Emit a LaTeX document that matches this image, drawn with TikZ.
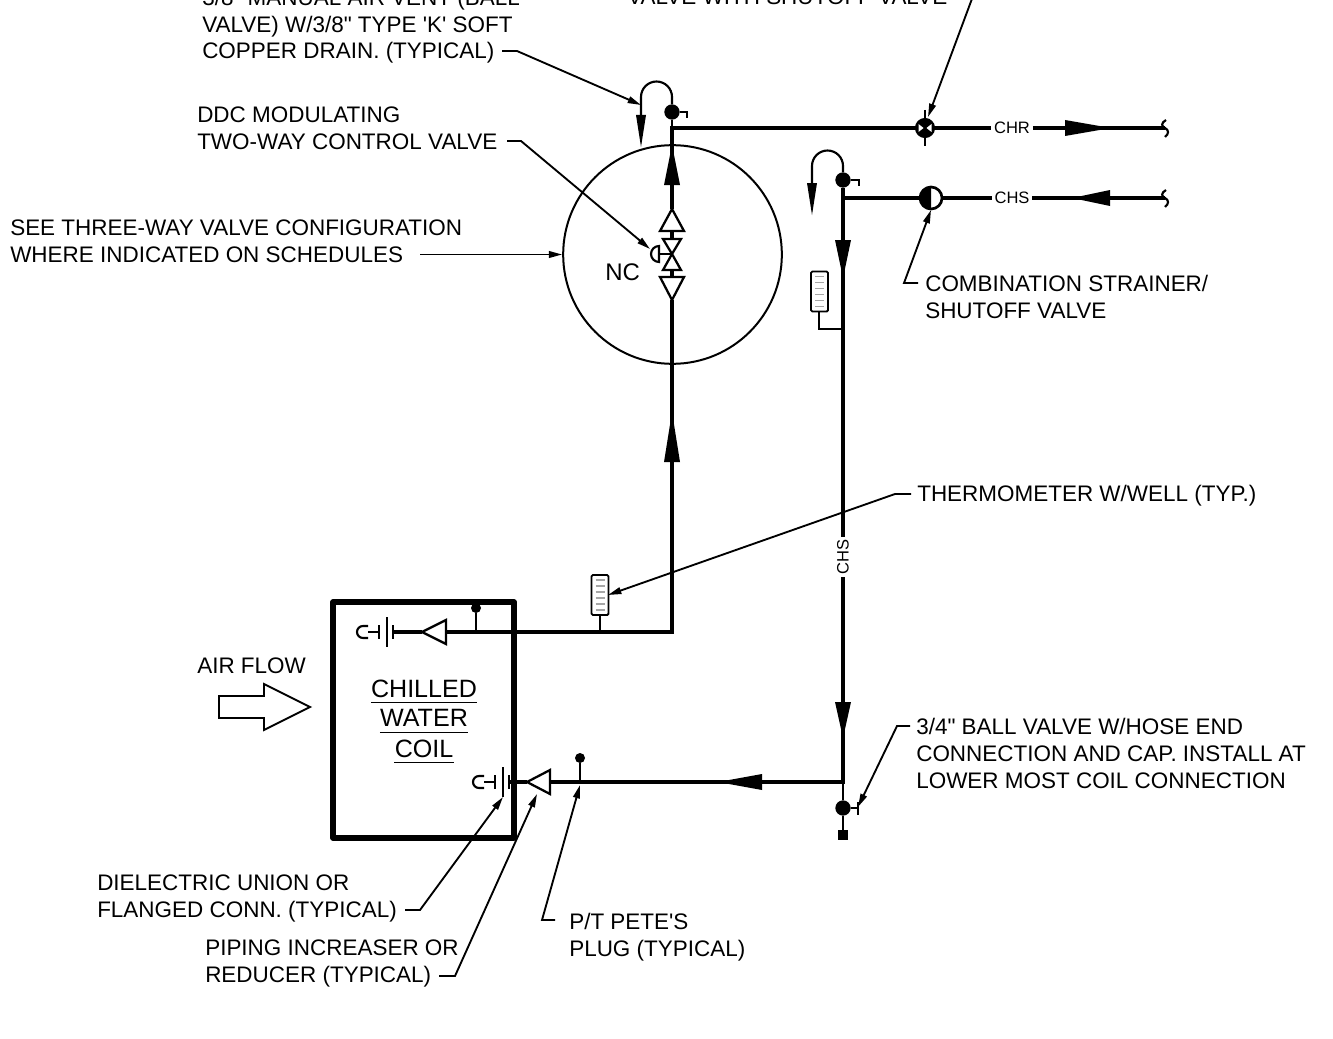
\documentclass[tikz,border=0pt]{standalone}
\usepackage{fontspec}
\setmainfont{Liberation Sans}[Ligatures=TeXOff]
\usetikzlibrary{arrows.meta}
\tikzset{
    callout/.style={inner sep=0pt, align=left, font=\fontsize{16.85}{19.9}\selectfont},
    coilname/.style={inner sep=0pt, text depth=4pt, font=\fontsize{18.8}{22}\selectfont},
    pipename/.style={inner sep=2pt, font=\fontsize{12.4}{14}\selectfont},
    pipe/.style={draw, line width=3pt},
    branch/.style={draw, line width=1.6pt},
    leader/.style={draw, line width=1.4pt, -{Triangle[length=10pt,width=5pt]}},
    ballnode/.style={circle, fill=black, inner sep=0pt, minimum size=11.5pt},
    plugnode/.style={circle, fill=black, inner sep=0pt, minimum size=7.5pt},
    flowhead/.style={fill=black},
    fitting/.style={draw, line width=1.7pt, fill=white, line join=miter},
}
\begin{document}
\begin{tikzpicture}[x=0.75pt, y=-0.75pt]
    \clip (0,0) rectangle (1333,1038);
    \fill[white] (0,0) rectangle (1333,1038);

    % pipe points
    \coordinate (riserbase) at (672,632);
    \coordinate (riserturn) at (672,128);
    \coordinate (coilout) at (446,632);
    \coordinate (chrend) at (1165,128);
    \coordinate (chsend) at (1165,198);
    \coordinate (chsturn) at (843,198);
    \coordinate (chstee) at (843,782);
    \coordinate (coilin) at (550,782);
    \coordinate (tempbranch) at (843,329);
    \coordinate (tempelbow) at (819,329);

    % equipment
    \node[circle, draw, line width=1.5pt, inner sep=0pt, minimum size=164pt] (threeway) at (672.5,254.5) {};
    \draw[line width=3.8pt, line join=round, fill=white] (333,602) rectangle (514,838);
    \node[coilname] (chilled) at (424,691) {CHILLED};
    \node[coilname] (water) at (424,721) {WATER};
    \node[coilname] (coil) at (424,751) {COIL};
    \foreach \word in {chilled, water, coil}
        \draw[line width=1.1pt] (\word.south west) -- (\word.south east);

    % vents and valves
    \node[ballnode] (ventone) at (672,112) {};
    \node[ballnode] (venttwo) at (843,180) {};
    \node[ballnode] (drain) at (843,808) {};
    \node[plugnode] (plugone) at (476,608) {};
    \node[plugnode] (plugtwo) at (580,758) {};
    \node[fill=black, inner sep=0pt, minimum size=7.5pt] (draincap) at (843,835) {};

    % piping
    \draw[pipe] (672,300) -- (riserbase) -- (coilout);
    \draw[pipe] (672,209) -- (riserturn) -- (925,128);
    \node[pipename] (chr) at (1012,128) {CHR};
    \node[pipename] (chs) at (1012,198) {CHS};
    \node[pipename, rotate=90] (chsdown) at (843,557) {CHS};
    \draw[pipe] (925,128) -- (chr) -- (chrend);
    \draw[pipe] (931,198) -- (chs) -- (chsend);
    \draw[pipe] (931,198) -- (chsturn) -- (venttwo);
    \draw[pipe] (chsturn) -- (chsdown) -- (chstee) -- (coilin);
    \draw[branch] (chstee) -- (drain) -- (draincap);
    \draw[branch] (ventone) -- (riserturn);
    \draw[branch] (plugone) -- (476,632);
    \draw[branch] (plugtwo) -- (580,782);
    \draw[pipe] (422,632) -- (393,632);
    \draw[pipe] (527,782) -- (509,782);
    \draw[branch] (ventone) -- (672,97) arc[start angle=0, end angle=-180, radius=15.5] -- (641,116);
    \draw[branch] (venttwo) -- (843,166) arc[start angle=0, end angle=-180, radius=15.5] -- (812,184);
    \draw[branch] (ventone) -- (687,112) -- (687,118);
    \draw[branch] (venttwo) -- (859,180) -- (859,186);
    \draw[branch] (drain) -- (858,808);
    \draw[branch] (858,802) -- (858,815);

    % flow arrows: base x, base y, angle, length, half width
    \foreach \bx/\by/\ang/\len/\hw in {
        641/115/270/32/5, 812/183/270/32/5, 672/185/90/40/8, 672/462/90/50/8,
        843/240/270/38/8, 843/702/270/36/8, 1065/128/0/46/8, 1110/198/180/38/8,
        762/782/180/44/8}
        \fill[flowhead, shift={(\bx,\by)}, rotate=\ang] (0,-\hw) -- (\len,0) -- (0,\hw) -- cycle;

    % reducers and control valve bodies: base x, base y, angle, length, half width
    \foreach \bx/\by/\ang/\len/\hw in {
        672/231/90/22/12, 672/277/270/23/12, 672/239/270/15/9, 672/270/90/16/9,
        446/632/180/24/12, 550/782/180/23/12}
        \draw[fitting, shift={(\bx,\by)}, rotate=\ang] (0,-\hw) -- (\len,0) -- (0,\hw) -- cycle;
    \draw[pipe] (672,231) -- (672,239);
    \draw[pipe] (672,270) -- (672,277);
    \draw[branch] (672,254) -- (659,254);
    \draw[branch, fill=white] (659,246) arc[start angle=270, end angle=90, radius=8] -- cycle;

    % dielectric unions: pipe end x, y
    \foreach \ux/\uy in {393/632, 509/782} {
        \draw[branch] (\ux,\uy-7) -- (\ux,\uy+7);
        \draw[branch] (\ux-6,\uy-15) -- (\ux-6,\uy+15);
        \draw[branch] (\ux-14,\uy-7) -- (\ux-14,\uy+7);
        \draw[branch] (\ux-14,\uy) -- (\ux-25,\uy);
        \draw[branch] (\ux-25,\uy-6) -- (\ux-30,\uy-6) arc[start angle=270, end angle=90, radius=6] -- (\ux-25,\uy+6);
    }

    % shutoff valves
    \draw[branch] (925,110) -- (925,146);
    \node[circle, draw, line width=1.6pt, fill=black, inner sep=0pt, minimum size=13.5pt] (balance) at (925,128) {};
    \fill[white] (923.5,128) -- (918.5,124) -- (918.5,132) -- cycle;
    \fill[white] (926.5,128) -- (931.5,124) -- (931.5,132) -- cycle;
    \node[circle, draw, line width=2pt, fill=white, inner sep=0pt, minimum size=16.5pt] (strainer) at (931,198) {};
    \fill (931,186.5) arc[start angle=270, end angle=90, radius=11.5] -- cycle;

    % thermometers
    \foreach \tx/\ty in {600/595, 819.5/291.5} {
        \draw[line width=1.4pt, rounded corners=1pt, fill=white] (\tx-8.5,\ty-20) rectangle (\tx+8.5,\ty+20);
        \foreach \dy in {-15,-9,-3,3,9,15}
            \draw[gray!70, line width=0.9pt] (\tx-4.5,\ty+\dy) -- (\tx+4.5,\ty+\dy);
    }
    \draw[branch] (600,615) -- (600,632);
    \draw[branch] (819,312) -- (tempelbow) -- (tempbranch);

    % pipe breaks
    \foreach \brk in {chrend, chsend}
        \draw[branch, shift={(\brk)}] (1,-8) .. controls (-4,-5) and (-4,-2) .. (0,0) .. controls (4,2) and (4,6) .. (0,9);

    % air flow
    \draw[line width=1.4pt, line join=miter] (219,696) -- (264,696) -- (264,684) -- (310,707) -- (264,730) -- (264,718) -- (219,718) -- cycle;

    % callouts
    \node[callout, anchor=base west] (airvent) at (202,59) {3/8" MANUAL AIR VENT (BALL\\VALVE) W/3/8" TYPE 'K' SOFT\\COPPER DRAIN. (TYPICAL)};
    \node[callout, anchor=base west] (balancetext) at (627,5) {VALVE WITH SHUTOFF VALVE};
    \node[callout, anchor=base west] (ddc) at (197,149) {DDC MODULATING\\TWO-WAY CONTROL VALVE};
    \node[callout, anchor=base west] (seethree) at (10,262) {SEE THREE-WAY VALVE CONFIGURATION\\WHERE INDICATED ON SCHEDULES};
    \node[callout, anchor=base west] (nc) at (605,280) {\fontsize{18}{20}\selectfont NC};
    \node[callout, anchor=base west] (combo) at (925,318) {COMBINATION STRAINER/\\SHUTOFF VALVE};
    \node[callout, anchor=base west] (thermo) at (917,501) {THERMOMETER W/WELL (TYP.)};
    \node[callout, anchor=base west] (airflow) at (197,673) {AIR FLOW};
    \node[callout, anchor=base west] (hose) at (916,788) {3/4" BALL VALVE W/HOSE END\\CONNECTION AND CAP. INSTALL AT\\LOWER MOST COIL CONNECTION};
    \node[callout, anchor=base west] (dielectric) at (97,917) {DIELECTRIC UNION OR\\FLANGED CONN. (TYPICAL)};
    \node[callout, anchor=base west] (reducer) at (205,982) {PIPING INCREASER OR\\REDUCER (TYPICAL)};
    \node[callout, anchor=base west] (pete) at (569,956) {P/T PETE'S\\PLUG (TYPICAL)};

    % leaders
    \coordinate (airventa) at (502,51);
    \coordinate (airventb) at (517,51);
    \coordinate (ddca) at (507,141);
    \coordinate (ddcb) at (521,141);
    \coordinate (balancea) at (974.5,-8);
    \coordinate (seethreea) at (420,254.5);
    \coordinate (comboa) at (918,283);
    \coordinate (combob) at (904,283);
    \coordinate (thermoa) at (911,494);
    \coordinate (thermob) at (895,494);
    \coordinate (hosea) at (910,726);
    \coordinate (hoseb) at (897,726);
    \coordinate (dielectrica) at (405,910);
    \coordinate (dielectricb) at (420,910);
    \coordinate (reducera) at (439,976);
    \coordinate (reducerb) at (455,976);
    \coordinate (petea) at (555,920);
    \coordinate (peteb) at (542,920);
    \draw[leader] (airventa) -- (airventb) -- (641,105);
    \draw[leader] (ddca) -- (ddcb) -- (650,249);
    \draw[leader] (balancea) -- (928,117);
    \draw[leader] (seethreea) -- (threeway.west);
    \draw[leader] (comboa) -- (combob) -- (931,210);
    \draw[leader] (thermoa) -- (thermob) -- (608,595);
    \draw[leader] (hosea) -- (hoseb) -- (858,807);
    \draw[leader] (dielectrica) -- (dielectricb) -- (503,797);
    \draw[leader] (reducera) -- (reducerb) -- (537,794);
    \draw[leader] (petea) -- (peteb) -- (580,785);
\end{tikzpicture}
\end{document}
